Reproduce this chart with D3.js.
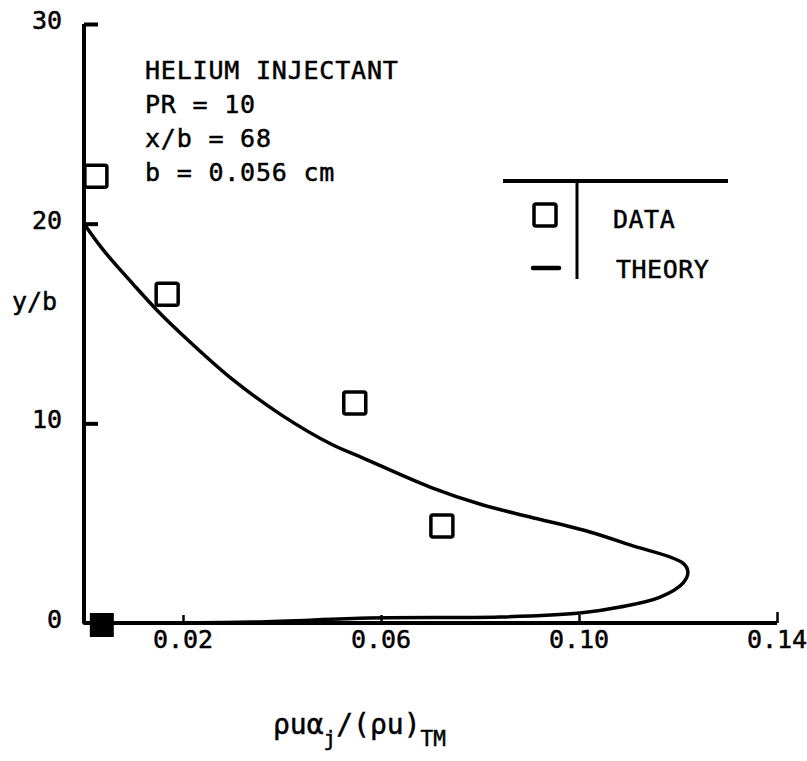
<!DOCTYPE html>
<html>
<head>
<meta charset="utf-8">
<script src="https://cdn.jsdelivr.net/npm/d3@7/dist/d3.min.js"></script>
<style>
  html, body { margin: 0; padding: 0; background: #fff; }
  svg text { font-family: "DejaVu Sans Mono", monospace; fill: #000; stroke: #000; stroke-width: 0.5px; }
</style>
</head>
<body>
<svg id="chart" width="807" height="761"></svg>
<script>
// ---- data ----
const xTicks = [0.02, 0.06, 0.10, 0.14];
const xTickLabels = ["0.02", "0.06", "0.10", "0.14"];
const yTicks = [0, 10, 20, 30];
const yTickLabels = ["0", "10", "20", "30"];

// open squares (DATA)
const dataX = [0.0024, 0.0168, 0.0547, 0.0723];
const dataY = [22.38, 16.47, 11.02, 4.86];
// filled square at origin
const filledX = [0.0036];
const filledY = [-0.1];

// theory curve
const theoryX = [0, 0.004, 0.010, 0.015, 0.020, 0.030, 0.040, 0.050, 0.0564, 0.0699, 0.0806, 0.0901, 0.1022, 0.1103, 0.1210, 0.1220, 0.1210, 0.1164, 0.1083, 0.1002, 0.0840, 0.0578, 0.0341, 0];
const theoryY = [20.0, 18.65, 16.95, 15.6, 14.4, 12.2, 10.4, 8.95, 8.26, 6.81, 5.91, 5.31, 4.56, 3.91, 3.0, 2.55, 2.0, 1.30, 0.80, 0.50, 0.30, 0.25, 0.05, 0];

const annotation = ["HELIUM INJECTANT", "PR = 10", "x/b = 68", "b = 0.056 cm"];
const legendLabels = ["DATA", "THEORY"];

// ---- drawing ----
const svg = d3.select("#chart");
const x = d3.scaleLinear().domain([0, 0.14]).range([84, 777]);
const y = d3.scaleLinear().domain([0, 30]).range([623, 24]);

const ink = "#000";
const fs = 25;

// y axis
const yAxis = d3.axisRight(y).tickValues([10, 20, 30]).tickSize(14).tickFormat("");
const gy = svg.append("g").attr("transform", `translate(${x(0)},0)`).call(yAxis);
gy.select(".domain").attr("d", `M0,${y(30)}V${y(0)}`).attr("stroke", ink).attr("stroke-width", 4);
gy.selectAll(".tick line").attr("stroke", ink).attr("stroke-width", 4);

// x axis
const xAxis = d3.axisTop(x).tickValues(xTicks).tickSize(8).tickFormat("");
const gx = svg.append("g").attr("transform", `translate(0,${y(0)})`).call(xAxis);
gx.select(".domain").attr("d", `M${x(0)},0H${x(0.14)}`).attr("stroke", ink).attr("stroke-width", 4);
gx.selectAll(".tick line").attr("stroke", ink).attr("stroke-width", 2.5)
  .attr("y2", (d) => d === 0.14 ? -11 : -8);

// y tick labels
svg.append("g").selectAll("text").data(yTicks).join("text")
  .attr("x", 62).attr("y", (d) => y(d) + 5)
  .attr("text-anchor", "end").attr("font-size", fs)
  .text((d, i) => yTickLabels[i]);

// x tick labels
svg.append("g").selectAll("text").data(xTicks).join("text")
  .attr("x", (d) => x(d)).attr("y", 648)
  .attr("text-anchor", "middle").attr("font-size", fs)
  .text((d, i) => xTickLabels[i]);

// y axis title
svg.append("text").attr("x", 12).attr("y", 310).attr("font-size", fs).text("y/b");

// x axis title
const xt = svg.append("text").attr("x", 273).attr("y", 734).attr("font-size", 28);
xt.append("tspan").text("ρuα");
xt.append("tspan").attr("font-size", 21).attr("dy", 12).text("j");
xt.append("tspan").attr("dy", -12).text("/(ρu)");
xt.append("tspan").attr("font-size", 21).attr("dy", 12).text("TM");

// theory curve
const line = d3.line().x((d) => x(d[0])).y((d) => y(d[1])).curve(d3.curveCatmullRom.alpha(0.5));
svg.append("path").datum(d3.zip(theoryX, theoryY))
  .attr("d", line).attr("fill", "none").attr("stroke", ink).attr("stroke-width", 3.5)
  .attr("stroke-linejoin", "round").attr("stroke-linecap", "round");

// data squares
const sq = 22;
svg.append("g").selectAll("rect").data(d3.zip(dataX, dataY)).join("rect")
  .attr("x", (d) => x(d[0]) - sq / 2).attr("y", (d) => y(d[1]) - sq / 2)
  .attr("width", sq).attr("height", sq).attr("rx", 2)
  .attr("fill", "none").attr("stroke", ink).attr("stroke-width", 3.5);

svg.append("g").selectAll("rect").data(d3.zip(filledX, filledY)).join("rect")
  .attr("x", (d) => x(d[0]) - 12).attr("y", (d) => y(d[1]) - 12)
  .attr("width", 24).attr("height", 24)
  .attr("fill", ink);

// annotation
svg.append("g").selectAll("text").data(annotation).join("text")
  .attr("x", 145).attr("y", (d, i) => 79 + i * 34)
  .attr("font-size", fs).attr("letter-spacing", 0.8)
  .text((d) => d);

// legend
const lg = svg.append("g");
lg.append("line").attr("x1", 503).attr("x2", 728).attr("y1", 181).attr("y2", 181)
  .attr("stroke", ink).attr("stroke-width", 4);
lg.append("line").attr("x1", 577).attr("x2", 577).attr("y1", 181).attr("y2", 279)
  .attr("stroke", ink).attr("stroke-width", 3);
lg.append("rect").attr("x", 534).attr("y", 204).attr("width", 22).attr("height", 22).attr("rx", 2)
  .attr("fill", "none").attr("stroke", ink).attr("stroke-width", 3.5);
lg.append("line").attr("x1", 533).attr("x2", 559).attr("y1", 268).attr("y2", 268)
  .attr("stroke", ink).attr("stroke-width", 4.5).attr("stroke-linecap", "round");
lg.selectAll("text.lab").data(legendLabels).join("text").attr("class", "lab")
  .attr("x", (d, i) => i === 0 ? 613 : 616).attr("y", (d, i) => i === 0 ? 228 : 278)
  .attr("font-size", fs).attr("letter-spacing", 0.5)
  .text((d) => d);
</script>
</body>
</html>
